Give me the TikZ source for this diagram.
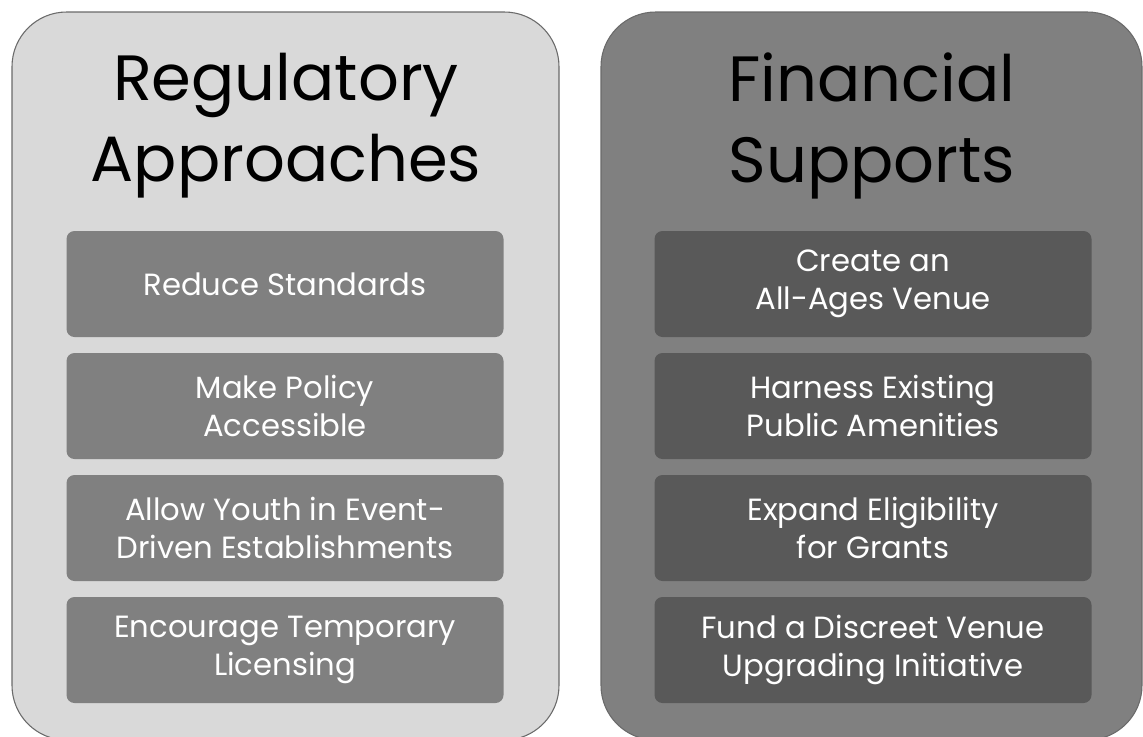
\documentclass[tikz,border=0pt]{standalone}
\usepackage{fontspec}
\setmainfont{Poppins}
\usetikzlibrary{positioning}
\definecolor{panellight}{HTML}{D9D9D9}
\definecolor{paneldark}{HTML}{808080}
\definecolor{boxdark}{HTML}{595959}
\definecolor{rimgray}{HTML}{6A6A6A}
\tikzset{
  panel/.style={draw=rimgray, line width=0.8pt, rounded corners=41pt},
  title/.style={align=center, font={\fontsize{48}{60.75}\selectfont}, text=black},
  itembox/.style={minimum width=327.75pt, minimum height=79.5pt, rounded corners=6pt,
    align=center, text=white, inner sep=0pt, font={\fontsize{23}{28.5}\selectfont}},
  itemleft/.style={itembox, fill=paneldark},
  itemright/.style={itembox, fill=boxdark}
}
\begin{document}
\begin{tikzpicture}[x=0.75pt, y=-0.75pt]
			%%%%% START %%%%%
			\useasboundingbox (0, 0) rectangle (1143, 736);
			
			\draw[panel, fill=panellight] (12, 12) rectangle (559, 740);
			\draw[panel, fill=paneldark] (601, 12) rectangle (1142, 740);
			
			\node[title] (regtitle) at (286, 126) {Regulatory\\Approaches};
			\node[title] (fintitle) at (872, 126) {Financial\\Supports};
			
			\node[itemleft] (reduce) at (285, 284) {Reduce Standards};
			\node[itemleft] (policy) at (285, 406) {Make Policy\\Accessible};
			\node[itemleft] (youth) at (285, 528) {Allow Youth in Event-\\Driven Establishments};
			\node[itemleft] (licensing) at (285, 650) {Encourage Temporary\\Licensing};
			
			\node[itemright] (venue) at (873, 284) {Create an\\All-Ages Venue};
			\node[itemright] (amenities) at (873, 406) {Harness Existing\\Public Amenities};
			\node[itemright] (grants) at (873, 528) {Expand Eligibility\\for Grants};
			\node[itemright] (upgrading) at (873, 650) {Fund a Discreet Venue\\Upgrading Initiative};
			
			%%%%% END %%%%%
\end{tikzpicture}
\end{document}
